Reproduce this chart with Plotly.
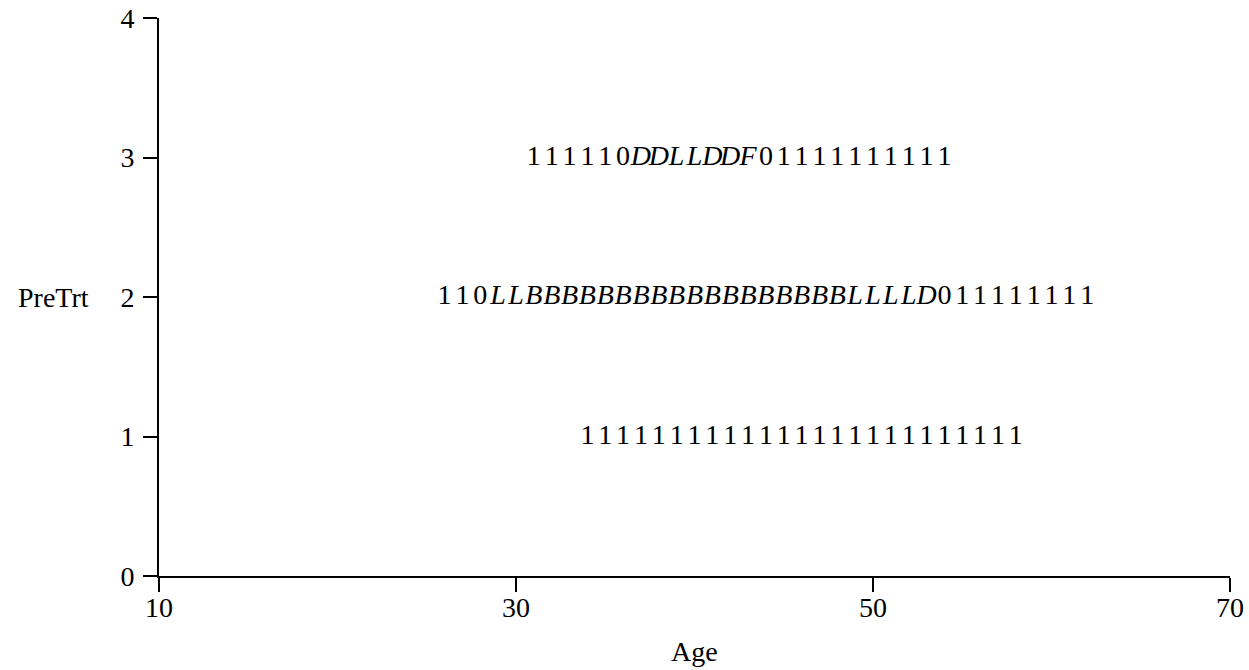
import plotly.graph_objects as go

# Data: per-subject yearly status codes, starting age and PreTrt level
row_levels = [3, 2, 1]
row_start_ages = [31, 26, 34]
row_codes = [
    "111110DDLLDDF01111111111",
    "110LLBBBBBBBBBBBBBBBBBBLLLLD011111111",
    "1111111111111111111111111",
]
x_ticks = [10, 30, 50, 70]
y_ticks = [0, 1, 2, 3, 4]

FONT = "Liberation Serif"
FS = 28

fig = go.Figure()
for lvl, start, codes in zip(row_levels, row_start_ages, row_codes):
    ages = list(range(start, start + len(codes)))
    dig_x = [a for a, c in zip(ages, codes) if c.isdigit()]
    dig_t = [c for c in codes if c.isdigit()]
    let_x = [a for a, c in zip(ages, codes) if not c.isdigit()]
    let_t = [c for c in codes if not c.isdigit()]
    fig.add_trace(go.Scatter(x=dig_x, y=[lvl] * len(dig_x), text=dig_t, mode="text",
                             textposition="middle center",
                             textfont=dict(family=FONT, size=FS, color="black"),
                             showlegend=False, hoverinfo="skip", cliponaxis=False))
    if let_x:
        fig.add_trace(go.Scatter(x=let_x, y=[lvl] * len(let_x), text=let_t, mode="text",
                                 textposition="middle center",
                                 textfont=dict(family=FONT, size=FS, color="black", style="italic"),
                                 showlegend=False, hoverinfo="skip", cliponaxis=False))

axis_common = dict(showgrid=False, zeroline=False, showline=True, linecolor="black",
                   linewidth=2, ticks="outside", ticklen=14, tickwidth=2, tickcolor="black",
                   automargin=False,
                   tickfont=dict(family=FONT, size=FS, color="black"))

fig.update_xaxes(range=[10, 70], tickvals=x_ticks, ticktext=[str(v) for v in x_ticks],
                 ticklabelstandoff=-9, **axis_common)
fig.update_yaxes(range=[0, 4], tickvals=y_ticks, ticktext=[str(v) for v in y_ticks],
                 ticklabelstandoff=3, **axis_common)

fig.add_annotation(text="PreTrt", xref="paper", yref="y", x=-0.1335, y=2,
                   xanchor="left", yanchor="middle", showarrow=False,
                   font=dict(family=FONT, size=FS, color="black"))
fig.add_annotation(text="Age", xref="x", yref="paper", x=40, y=-0.1362,
                   xanchor="center", yanchor="middle", showarrow=False,
                   font=dict(family=FONT, size=FS, color="black"))

fig.update_layout(width=1249, height=670, plot_bgcolor="white", paper_bgcolor="white",
                  margin=dict(l=159, r=19, t=18, b=94))

fig.write_html("out.html", config={"displayModeBar": False},
               post_script="document.body.style.margin='0';")
